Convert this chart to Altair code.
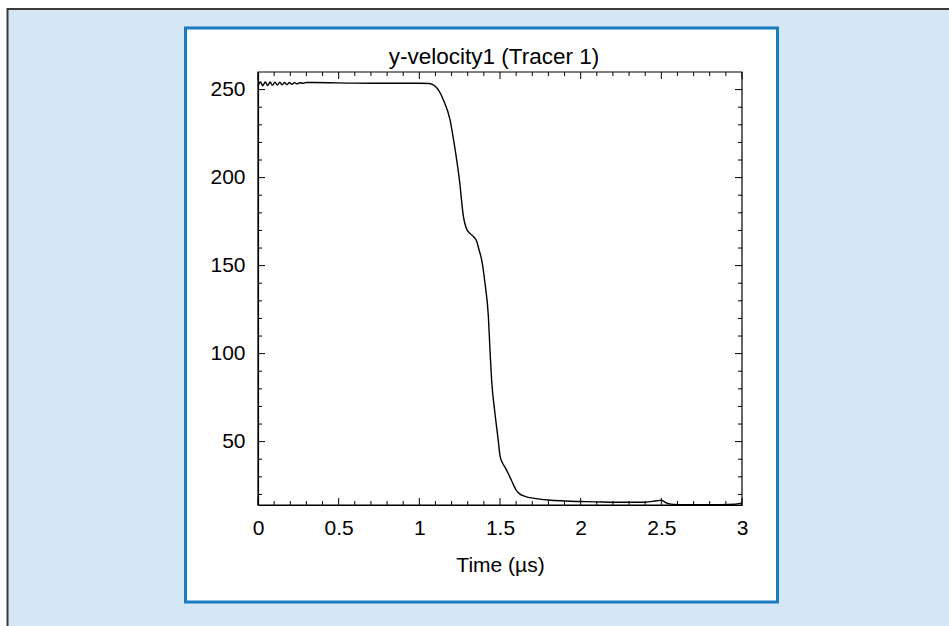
import altair as alt
import pandas as pd

# ---- data ----
time_us = [0.00, 0.015, 0.03, 0.045, 0.06, 0.075, 0.09, 0.105, 0.12, 0.135,
           0.15, 0.165, 0.18, 0.195, 0.21, 0.225, 0.24, 0.26, 0.28, 0.30,
           0.34, 0.60, 0.90, 1.00, 1.06, 1.08, 1.10, 1.12, 1.15, 1.19,
           1.22, 1.25, 1.273, 1.29, 1.314, 1.335, 1.355, 1.37, 1.387, 1.407,
           1.428, 1.438, 1.448, 1.469, 1.49, 1.50, 1.515, 1.531, 1.545, 1.572,
           1.60, 1.624, 1.66, 1.705, 1.80, 1.90, 2.00, 2.10, 2.20, 2.30,
           2.40, 2.47, 2.50, 2.53, 2.56, 2.65, 2.75, 2.85, 2.95, 2.98, 3.00]
y_velocity = [252.0, 254.3, 252.2, 254.4, 252.3, 254.3, 252.4, 254.2, 252.6, 254.2,
              252.7, 254.0, 252.8, 254.0, 253.0, 253.9, 253.3, 253.9, 253.6, 254.0,
              254.0, 253.7, 253.6, 253.6, 253.5, 253.0, 251.8, 249.5, 244.0, 233.0,
              217.0, 197.5, 178.0, 171.5, 168.3, 166.5, 164.0, 159.0, 153.0, 140.0,
              121.0, 102.0, 85.0, 66.0, 50.0, 42.0, 38.0, 35.5, 33.0, 27.8,
              22.5, 20.2, 18.8, 17.9, 16.8, 16.3, 16.0, 15.8, 15.6, 15.6,
              15.6, 16.4, 16.7, 15.2, 14.5, 14.2, 14.1, 14.2, 14.4, 14.8, 15.2]

x_major = [0, 0.5, 1, 1.5, 2, 2.5, 3]
x_minor = [0.1, 0.2, 0.3, 0.4, 0.6, 0.7, 0.8, 0.9, 1.1, 1.2, 1.3, 1.4,
           1.6, 1.7, 1.8, 1.9, 2.1, 2.2, 2.3, 2.4, 2.6, 2.7, 2.8, 2.9]
y_major = [50, 100, 150, 200, 250]
y_minor = [20, 30, 40, 60, 70, 80, 90, 110, 120, 130, 140, 160, 170, 180,
           190, 210, 220, 230, 240]

x_domain = [0, 3]
y_domain = [14, 260]
chart_title = "y-velocity1 (Tracer 1)"
x_title = "Time (µs)"

W, H = 484, 433
FONT = "Liberation Sans"

line_df = pd.DataFrame({"time": time_us, "vel": y_velocity})
xmaj_df = pd.DataFrame({"time": x_major})
xmin_df = pd.DataFrame({"time": x_minor})
ymaj_df = pd.DataFrame({"vel": y_major})
ymin_df = pd.DataFrame({"vel": y_minor})
one = pd.DataFrame({"label": [chart_title]})

xscale = alt.Scale(domain=x_domain, nice=False, zero=False)
yscale = alt.Scale(domain=y_domain, nice=False, zero=False)
xaxis = alt.Axis(title=x_title, values=x_major, format="~g", ticks=False,
                 labelFlush=False, labelPadding=12, titlePadding=16, zindex=5)
yaxis = alt.Axis(title=None, values=y_major, ticks=False, labelPadding=13, zindex=5)

# decorative page frame (light blue panel) and white box with blue border
page = alt.Chart(one).mark_rect(fill="#d5e7f5", stroke="#3a3a3a", strokeWidth=2).encode(
    x=alt.value(-250.5), x2=alt.value(800), y=alt.value(-63), y2=alt.value(700))
box = alt.Chart(one).mark_rect(fill="white", stroke="#1a7bbf", strokeWidth=3).encode(
    x=alt.value(-72.5), x2=alt.value(519.5), y=alt.value(-44), y2=alt.value(530))
frame = alt.Chart(one).mark_rect(fill="white", stroke="black", strokeWidth=1.2).encode(
    x=alt.value(0), x2=alt.value(W), y=alt.value(0), y2=alt.value(H))
title = alt.Chart(one).mark_text(font=FONT, fontSize=22.5, color="black",
                                 baseline="alphabetic", align="center").encode(
    text="label:N", x=alt.value(W / 2 - 6), y=alt.value(-8))

line = alt.Chart(line_df).mark_line(color="black", strokeWidth=1.4,
                                    interpolate="monotone").encode(
    x=alt.X("time:Q", scale=xscale, axis=xaxis),
    y=alt.Y("vel:Q", scale=yscale, axis=yaxis),
)

def xticks(df, length):
    bottom = alt.Chart(df).mark_rule(color="black", strokeWidth=1).encode(
        x=alt.X("time:Q", scale=xscale, axis=xaxis), y=alt.value(H), y2=alt.value(H - length))
    top = alt.Chart(df).mark_rule(color="black", strokeWidth=1).encode(
        x=alt.X("time:Q", scale=xscale, axis=xaxis), y=alt.value(0), y2=alt.value(length))
    return [bottom, top]

def yticks(df, length):
    left = alt.Chart(df).mark_rule(color="black", strokeWidth=1).encode(
        y=alt.Y("vel:Q", scale=yscale, axis=yaxis), x=alt.value(0), x2=alt.value(length))
    right = alt.Chart(df).mark_rule(color="black", strokeWidth=1).encode(
        y=alt.Y("vel:Q", scale=yscale, axis=yaxis), x=alt.value(W), x2=alt.value(W - length))
    return [left, right]

layers = [page, box, frame, title, line] + xticks(xmaj_df, 7) + xticks(xmin_df, 4) \
    + yticks(ymaj_df, 7) + yticks(ymin_df, 4)

chart = alt.layer(*layers).properties(
    width=W, height=H,
    padding={"left": 258, "top": 72, "right": 207, "bottom": 121},
    autosize=alt.AutoSizeParams(type="none"),
    background="white",
).configure_view(stroke=None).configure_axis(
    domainColor="black", domainWidth=1.2, labelFont=FONT, labelFontSize=21,
    labelColor="black", titleFont=FONT, titleFontSize=21, titleFontWeight="normal",
    titleColor="black", grid=False,
)

chart.save("out.html", embed_options={"renderer": "svg", "actions": False})
